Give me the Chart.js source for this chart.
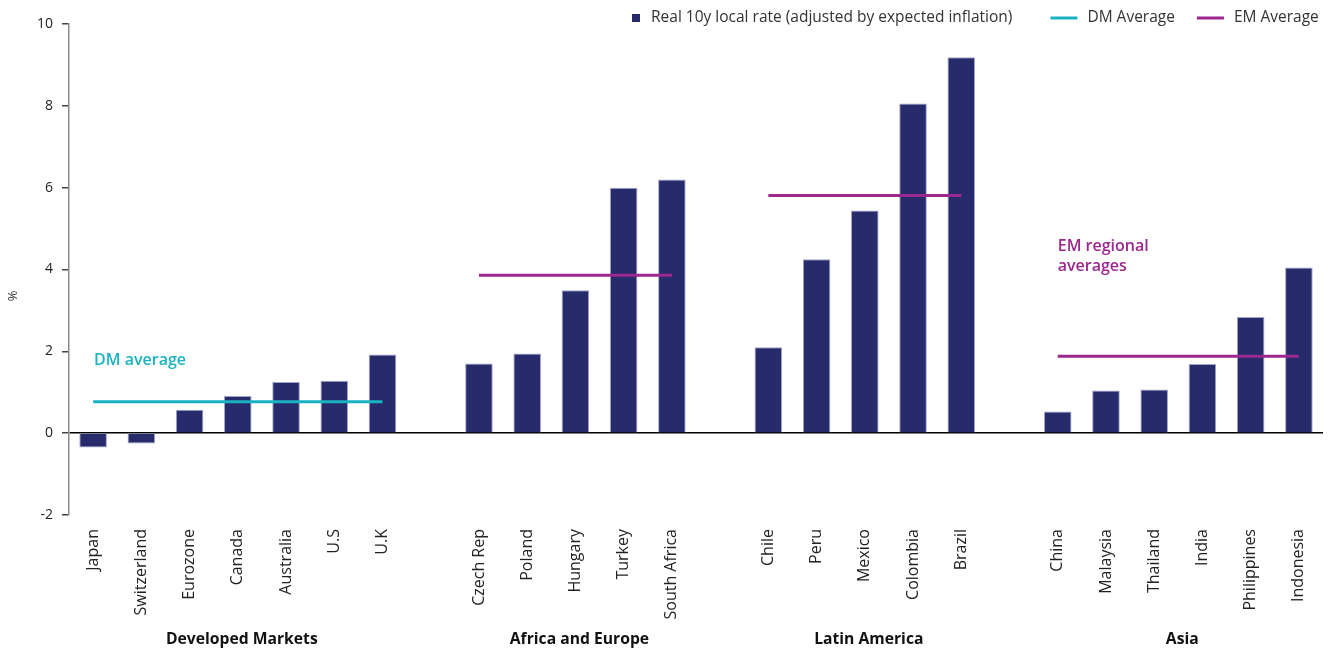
<!DOCTYPE html>
<html>
<head>
<meta charset="utf-8">
<title>Real 10y local rates</title>
<script src="https://cdn.jsdelivr.net/npm/chart.js@4.4.1/dist/chart.umd.min.js"></script>
<style>
  html, body { margin: 0; padding: 0; background: #ffffff; }
  #wrap { position: relative; width: 1341px; height: 648px; }
</style>
</head>
<body>
<div id="wrap"><canvas id="chart"></canvas></div>
<script>
// Region names, shown beneath each block of countries
const regionNames = ['Developed Markets', 'Africa and Europe', 'Latin America', 'Asia'];

// Countries and real 10y local rates (%) per region
const dmCountries = ['Japan', 'Switzerland', 'Eurozone', 'Canada', 'Australia', 'U.S', 'U.K'];
const dmRates = [-0.35, -0.25, 0.57, 0.91, 1.25, 1.28, 1.92];

const afeCountries = ['Czech Rep', 'Poland', 'Hungary', 'Turkey', 'South Africa'];
const afeRates = [1.70, 1.95, 3.49, 6.00, 6.20];

const latamCountries = ['Chile', 'Peru', 'Mexico', 'Colombia', 'Brazil'];
const latamRates = [2.10, 4.25, 5.44, 8.06, 9.19];

const asiaCountries = ['China', 'Malaysia', 'Thailand', 'India', 'Philippines', 'Indonesia'];
const asiaRates = [0.53, 1.04, 1.07, 1.69, 2.84, 4.05];

// Averages
const dmAverage = 0.77;
const emRegionalAverages = [3.86, 5.81, 1.88]; // Africa and Europe, Latin America, Asia

// Y axis ticks
const yMin = -2, yMax = 10, yStep = 2;

// Series names
const seriesNames = ['Real 10y local rate (adjusted by expected inflation)', 'DM Average', 'EM Average'];

// Colours
const NAVY = '#272b6b';
const TEAL = '#1bb3c4';
const PURPLE = '#9b2790';
const TEXT = '#333333';

// ---- build the category axis: one blank slot between regions ----
const regionCountries = [dmCountries, afeCountries, latamCountries, asiaCountries];
const regionRates = [dmRates, afeRates, latamRates, asiaRates];
const regionAverages = [dmAverage, ...emRegionalAverages];

const labels = [];
const rateData = [];
const dmLine = [];
const emLine = [];
const regionSpans = []; // [firstIndex, lastIndex] per region

regionCountries.forEach((countries, r) => {
  if (r > 0) {
    labels.push('');
    rateData.push(null);
    dmLine.push(null);
    emLine.push(null);
  }
  const first = labels.length;
  countries.forEach((c, i) => {
    labels.push(c);
    rateData.push(regionRates[r][i]);
    dmLine.push(r === 0 ? regionAverages[r] : null);
    emLine.push(r > 0 ? regionAverages[r] : null);
  });
  regionSpans.push([first, labels.length - 1]);
});

// ---- extra drawing: legend, axis unit, region names, annotations ----
const decorations = {
  id: 'decorations',
  afterDatasetsDraw(chart) {
    const ctx = chart.ctx;
    const x = chart.scales.x;
    const y = chart.scales.y;
    ctx.save();

    // legend, laid out from its left edge
    ctx.font = '15.5px "Open Sans", sans-serif';
    ctx.textBaseline = 'middle';
    ctx.textAlign = 'left';
    const ly = 18;
    let lx = 632;
    // bar swatch
    ctx.fillStyle = NAVY;
    ctx.fillRect(lx, ly - 4, 8, 8);
    lx += 19;
    ctx.fillStyle = TEXT;
    ctx.fillText(chart.data.datasets[2].label, lx, ly);
    lx += ctx.measureText(chart.data.datasets[2].label).width + 38;
    // line swatches
    [[chart.data.datasets[0], 22], [chart.data.datasets[1], 0]].forEach(([ds, gapAfter]) => {
      ctx.strokeStyle = ds.borderColor;
      ctx.lineWidth = 3;
      ctx.beginPath();
      ctx.moveTo(lx, ly);
      ctx.lineTo(lx + 27, ly);
      ctx.stroke();
      lx += 37;
      ctx.fillStyle = TEXT;
      ctx.fillText(ds.label, lx, ly);
      lx += ctx.measureText(ds.label).width + gapAfter;
    });

    // axis unit
    ctx.save();
    ctx.translate(13, 296);
    ctx.rotate(-Math.PI / 2);
    ctx.textAlign = 'center';
    ctx.font = '13px "Open Sans", sans-serif';
    ctx.fillStyle = TEXT;
    ctx.fillText('%', 0, 0);
    ctx.restore();

    // region names under the country labels
    ctx.font = 'bold 15.7px "Open Sans", sans-serif';
    ctx.fillStyle = '#111111';
    ctx.textAlign = 'center';
    ctx.textBaseline = 'alphabetic';
    regionSpans.forEach(([a, b], r) => {
      const cx = (x.getPixelForValue(a) + x.getPixelForValue(b)) / 2 + 4;
      ctx.fillText(regionNames[r], cx, 644);
    });

    // annotations
    ctx.font = '600 16px "Open Sans", sans-serif';
    ctx.textAlign = 'left';
    ctx.fillStyle = TEAL;
    ctx.fillText('DM average', x.getPixelForValue(regionSpans[0][0]) + 1, y.getPixelForValue(1.66));
    ctx.fillStyle = PURPLE;
    const ax = x.getPixelForValue(regionSpans[3][0]);
    ctx.fillText('EM regional', ax, y.getPixelForValue(4.45));
    ctx.fillText('averages', ax, y.getPixelForValue(3.96));

    ctx.restore();
  }
};

Chart.defaults.font.family = '"Open Sans", sans-serif';
Chart.defaults.color = TEXT;

new Chart(document.getElementById('chart'), {
  type: 'bar',
  data: {
    labels: labels,
    datasets: [
      {
        type: 'line',
        label: seriesNames[1],
        data: dmLine,
        borderColor: TEAL,
        backgroundColor: TEAL,
        borderWidth: 3,
        pointRadius: 0,
        borderCapStyle: 'butt',
        spanGaps: false,
        order: 1
      },
      {
        type: 'line',
        label: seriesNames[2],
        data: emLine,
        borderColor: PURPLE,
        backgroundColor: PURPLE,
        borderWidth: 3,
        pointRadius: 0,
        borderCapStyle: 'butt',
        spanGaps: false,
        order: 1
      },
      {
        type: 'bar',
        label: seriesNames[0],
        data: rateData,
        backgroundColor: NAVY,
        borderColor: 'rgba(150,155,195,0.9)',
        borderWidth: 1,
        categoryPercentage: 1,
        barPercentage: 0.572,
        order: 2
      }
    ]
  },
  options: {
    responsive: true,
    maintainAspectRatio: false,
    animation: false,
    layout: { padding: { top: 24, right: 18, bottom: 0, left: 0 } },
    plugins: {
      legend: { display: false },
      tooltip: { enabled: false },
      title: { display: false }
    },
    scales: {
      x: {
        type: 'category',
        offset: true,
        grid: { display: false, drawTicks: false },
        border: { display: false },
        ticks: {
          autoSkip: false,
          maxRotation: 90,
          minRotation: 90,
          padding: 14,
          color: '#222222',
          font: { size: 16 }
        },
        afterFit(scale) { scale.height = 133; }
      },
      y: {
        min: yMin,
        max: yMax,
        ticks: {
          stepSize: yStep,
          padding: 9,
          color: '#222222',
          font: { size: 14 }
        },
        grid: {
          drawOnChartArea: true,
          drawTicks: true,
          tickLength: 7,
          tickColor: '#444444',
          lineWidth: 1.5,
          color: (c) => (c.tick && c.tick.value === 0 ? '#000000' : 'rgba(0,0,0,0)')
        },
        border: { display: true, color: '#8a8a8a', width: 1.5 },
        afterFit(scale) { scale.width = 69; }
      }
    }
  },
  plugins: [decorations]
});
</script>
</body>
</html>
